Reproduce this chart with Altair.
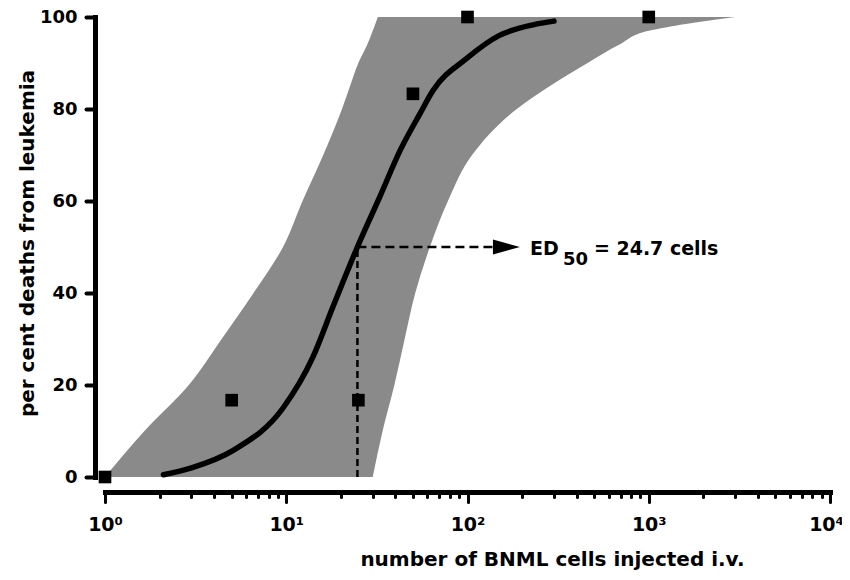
import altair as alt
import pandas as pd

# ---- data ----
point_cells = [1, 5, 25, 50, 100, 1000]
point_pct = [0, 16.7, 16.7, 83.3, 100, 100]

curve_cells = [2.1, 3, 5.1, 9.6, 14, 18.1, 24.7, 32.9, 42.5, 54.7, 64.5, 99, 150, 230, 300]
curve_pct = [0.5, 2, 5.8, 15, 26, 37, 50, 61, 71, 79, 84, 91, 96, 98.3, 99.1]

band_pct = [0, 10, 20, 30, 40, 50, 60, 70, 80, 85, 90, 94, 97, 98.5, 100]
band_low_cells = [1.0, 1.65, 2.9, 4.4, 6.6, 9.6, 12.3, 16.0, 20.3, 22.5, 25, 28, 30, 31, 32]
band_high_cells = [30, 34, 39.5, 45, 51.5, 62, 78, 106, 187, 285, 460, 690, 1000, 1600, 3000]

ed50_cells = 24.7
ed50_pct = 50
arrow_cells = 164
label_cells = 221
ed_texts = ["ED", "50", "= 24.7 cells"]

x_ticks = [m * 10 ** e for e in range(4) for m in range(1, 10)] + [10000]
decades = [1, 10, 100, 1000, 10000]
decade_labels = ["10\u2070", "10\u00b9", "10\u00b2", "10\u00b3", "10\u2074"]
y_ticks = [0, 20, 40, 60, 80, 100]

x_title = "number of BNML cells injected i.v."
y_title = "per cent deaths from leukemia"

# ---- tables ----
points = pd.DataFrame({"cells": point_cells, "pct": point_pct})
curve = pd.DataFrame({"cells": curve_cells, "pct": curve_pct})
band = pd.DataFrame({"pct": band_pct, "lo": band_low_cells, "hi": band_high_cells})
ed = pd.DataFrame({"cells": [ed50_cells], "pct": [ed50_pct], "zero": [0],
                   "arrow": [arrow_cells], "label": [label_cells]})

FONT = "DejaVu Sans"

label_expr = " : ".join(
    f"datum.value == {d} ? '{l}'" for d, l in zip(decades, decade_labels)
) + " : ''"
decade_test = "indexof([" + ",".join(str(d) for d in decades) + "], datum.value) >= 0"
last_test = f"datum.value == {decades[-1]}"

xscale = alt.Scale(type="log", domain=[1, 10000], nice=False)
yscale = alt.Scale(domain=[0, 100], nice=False, zero=False)

x_axis = alt.Axis(
    values=x_ticks, labelExpr=label_expr, offset=15, grid=False,
    domainWidth=5, domainColor="black", domainCap="square",
    tickColor="black", tickWidth=3, tickCap="round",
    tickSize={"condition": {"test": decade_test, "value": 10}, "value": 5},
    labelOffset={"condition": {"test": last_test, "value": -4}, "value": 0},
    labelFont=FONT, labelFontSize=19, labelFontWeight="bold", labelColor="black",
    labelPadding=13, labelFlush=False, labelOverlap=False, labelBound=False,
    title=x_title, titleFont=FONT, titleFontSize=20, titleFontWeight="bold",
    titleColor="black", titleX=447, titleY=73, titleAlign="center",
    titleBaseline="alphabetic",
)
y_axis = alt.Axis(
    values=y_ticks, offset=10, grid=False,
    domainWidth=5, domainColor="black", domainCap="square",
    tickColor="black", tickWidth=4, tickSize=9, tickCap="round",
    labelFont=FONT, labelFontSize=18, labelFontWeight="bold", labelColor="black",
    labelPadding=9, labelFlush=False, labelOverlap=False,
    title=y_title, titleFont=FONT, titleFontSize=20, titleFontWeight="bold",
    titleColor="black", titleX=-62, titleY=226, titleAngle=270, titleAlign="center",
    titleBaseline="alphabetic",
)

band_layer = alt.Chart(band).mark_area(
    orient="horizontal", interpolate="monotone", color="#8a8a8a", opacity=1
).encode(
    y=alt.Y("pct:Q", scale=yscale, axis=y_axis),
    x=alt.X("lo:Q", scale=xscale, axis=x_axis),
    x2="hi:Q",
)

curve_layer = alt.Chart(curve).mark_line(
    color="black", strokeWidth=5.5, interpolate="monotone", strokeCap="round"
).encode(x=alt.X("cells:Q", scale=xscale), y=alt.Y("pct:Q", scale=yscale))

vdash = alt.Chart(ed).mark_rule(
    color="black", strokeWidth=2.5, strokeDash=[7, 4]
).encode(x=alt.X("cells:Q", scale=xscale), y=alt.Y("zero:Q", scale=yscale), y2="pct:Q")

hdash = alt.Chart(ed).mark_rule(
    color="black", strokeWidth=2.5, strokeDash=[9, 5]
).encode(x=alt.X("cells:Q", scale=xscale), x2="arrow:Q", y=alt.Y("pct:Q", scale=yscale))

arrow = alt.Chart(ed).mark_point(
    shape="M -1 -0.55 L 1 0 L -1 0.55 Z", size=729, filled=True,
    color="black", opacity=1, strokeWidth=0
).encode(x=alt.X("arrow:Q", scale=xscale), y=alt.Y("pct:Q", scale=yscale))

pts = alt.Chart(points).mark_point(
    shape="square", size=160, filled=True, color="black", opacity=1
).encode(x=alt.X("cells:Q", scale=xscale), y=alt.Y("pct:Q", scale=yscale))

def ed_text(txt, dx, dy, size):
    return alt.Chart(ed).mark_text(
        align="left", baseline="alphabetic", dx=dx, dy=dy, font=FONT,
        fontWeight="bold", fontSize=size, color="black"
    ).encode(x=alt.X("label:Q", scale=xscale), y=alt.Y("pct:Q", scale=yscale),
             text=alt.value(txt))

t1 = ed_text(ed_texts[0], 0, 8, 19)
t2 = ed_text(ed_texts[1], 33, 18, 18)
t3 = ed_text(ed_texts[2], 64, 8, 19)

chart = alt.layer(band_layer, curve_layer, vdash, hdash, arrow, pts, t1, t2, t3).properties(
    width=725, height=460,
    padding={"left": 97, "top": 9, "right": 12, "bottom": 93},
    autosize=alt.AutoSizeParams(type="none"),
).configure(background="white").configure_view(stroke=None)

chart.save("out.html", embed_options={"renderer": "svg", "actions": False})
